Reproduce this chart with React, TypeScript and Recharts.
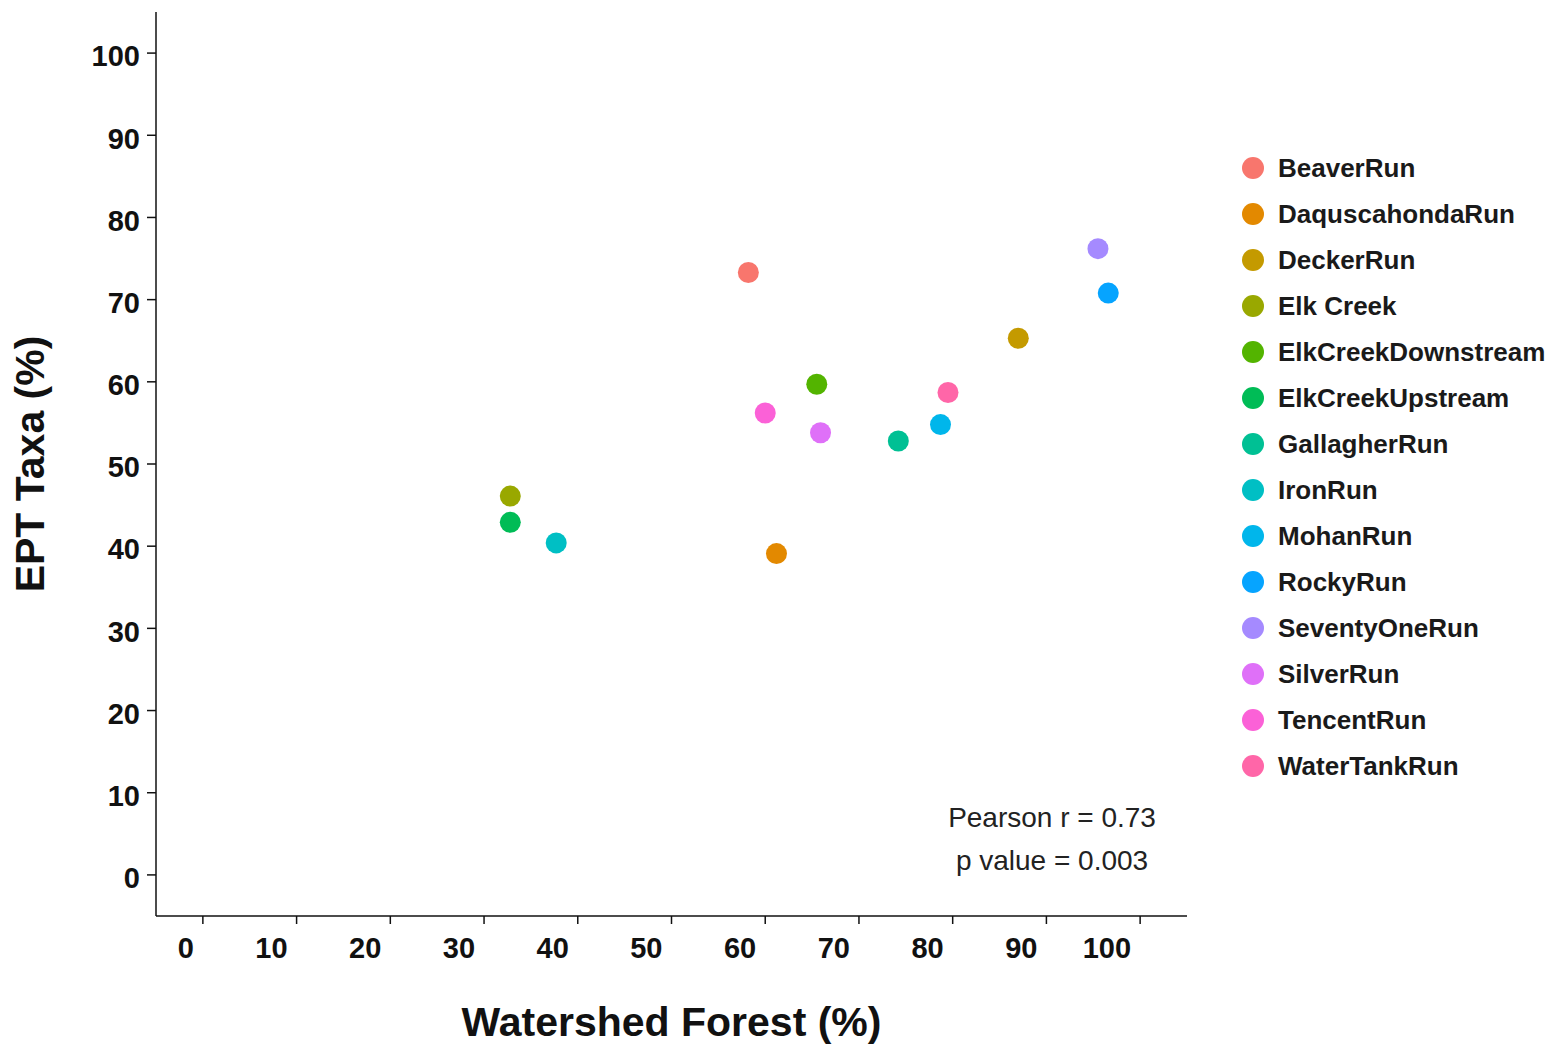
import { Legend, ReferenceDot, Scatter, ScatterChart, XAxis, YAxis } from "recharts";

const sites = [
  "BeaverRun",
  "DaquscahondaRun",
  "DeckerRun",
  "Elk Creek",
  "ElkCreekDownstream",
  "ElkCreekUpstream",
  "GallagherRun",
  "IronRun",
  "MohanRun",
  "RockyRun",
  "SeventyOneRun",
  "SilverRun",
  "TencentRun",
  "WaterTankRun",
];
const forestPct = [58.2, 61.2, 87.0, 32.8, 65.5, 32.8, 74.2, 37.7, 78.7, 96.6, 95.5, 65.9, 60.0, 79.5];
const eptPct = [73.3, 39.1, 65.3, 46.1, 59.7, 42.9, 52.8, 40.4, 54.8, 70.8, 76.2, 53.8, 56.2, 58.7];
const siteColors = [
  "#F8766D", "#E38900", "#C49A00", "#99A800", "#53B400", "#00BC56", "#00C094",
  "#00BFC4", "#00B6EB", "#06A4FF", "#A58AFF", "#DF70F8", "#FB61D7", "#FF66A8",
];
const axisTicks = [0, 10, 20, 30, 40, 50, 60, 70, 80, 90, 100];
const statLines = ["Pearson r = 0.73", "p value = 0.003"];
const statX = 90.6;
const statY = [7.0, 1.8];

const FONT = "'Liberation Sans', Arial, sans-serif";
const INK = "#111";

function LegendList(props: any) {
  const items = props.payload || [];
  return (
    <div style={{ fontFamily: FONT, fontWeight: 700, fontSize: 26, color: "#1a1a1a" }}>
      {items.map((it: any) => (
        <div key={it.value} style={{ height: 46, display: "flex", alignItems: "center" }}>
          <span
            style={{
              width: 22,
              height: 22,
              borderRadius: "50%",
              background: it.color || it.payload?.fill,
              display: "inline-block",
            }}
          />
          <span style={{ marginLeft: 14, whiteSpace: "nowrap" }}>{it.value}</span>
        </div>
      ))}
    </div>
  );
}

export default function App() {
  return (
    <div style={{ position: "absolute", left: 0, top: 0, background: "#fff" }}>
      <ScatterChart
        width={1563}
        height={1047}
        margin={{ top: 12, right: 376, left: 0, bottom: 0 }}
      >
        <XAxis
          type="number"
          dataKey="x"
          domain={[-5, 105]}
          ticks={axisTicks}
          height={131}
          stroke={INK}
          strokeWidth={1.5}
          tickSize={8}
          tickMargin={13}
          tick={{ fontSize: 29, fontWeight: 700, fill: INK, fontFamily: FONT, textAnchor: "end", dx: -9 }}
          label={{
            content: (p: any) => (
              <text
                x={p.viewBox.x + p.viewBox.width / 2}
                y={p.viewBox.y + 106}
                textAnchor="middle"
                dominantBaseline="central"
                fontFamily={FONT}
                fontWeight={700}
                fontSize={41}
                fill={INK}
              >
                Watershed Forest (%)
              </text>
            ),
          }}
        />
        <YAxis
          type="number"
          dataKey="y"
          domain={[-5, 105]}
          ticks={axisTicks}
          width={156}
          stroke={INK}
          strokeWidth={1.5}
          tickSize={9}
          tickMargin={7}
          tick={{ fontSize: 29, fontWeight: 700, fill: INK, fontFamily: FONT, dy: 3 }}
          label={{
            content: (p: any) => {
              const cx = p.viewBox.x + 30;
              const cy = p.viewBox.y + p.viewBox.height / 2;
              return (
                <text
                  x={cx}
                  y={cy}
                  transform={`rotate(-90 ${cx} ${cy})`}
                  textAnchor="middle"
                  dominantBaseline="central"
                  fontFamily={FONT}
                  fontWeight={700}
                  fontSize={41}
                  fill={INK}
                >
                  EPT Taxa (%)
                </text>
              );
            },
          }}
        />
        {sites.map((s, i) => (
          <Scatter
            key={s}
            name={s}
            data={[{ x: forestPct[i], y: eptPct[i] }]}
            fill={siteColors[i]}
            isAnimationActive={false}
            shape={(p: any) => <circle cx={p.cx} cy={p.cy} r={10.5} fill={siteColors[i]} />}
          />
        ))}
        {statLines.map((t, i) => (
          <ReferenceDot
            key={t}
            x={statX}
            y={statY[i]}
            r={0}
            shape={(p: any) => (
              <text
                x={p.cx}
                y={p.cy}
                textAnchor="middle"
                dominantBaseline="central"
                fontFamily={FONT}
                fontSize={28}
                fill="#222"
              >
                {t}
              </text>
            )}
          />
        ))}
        <Legend
          layout="vertical"
          align="center"
          verticalAlign="middle"
          content={(p: any) => <LegendList {...p} />}
          wrapperStyle={{ left: 1242, top: 145, width: 320 }}
        />
      </ScatterChart>
    </div>
  );
}
